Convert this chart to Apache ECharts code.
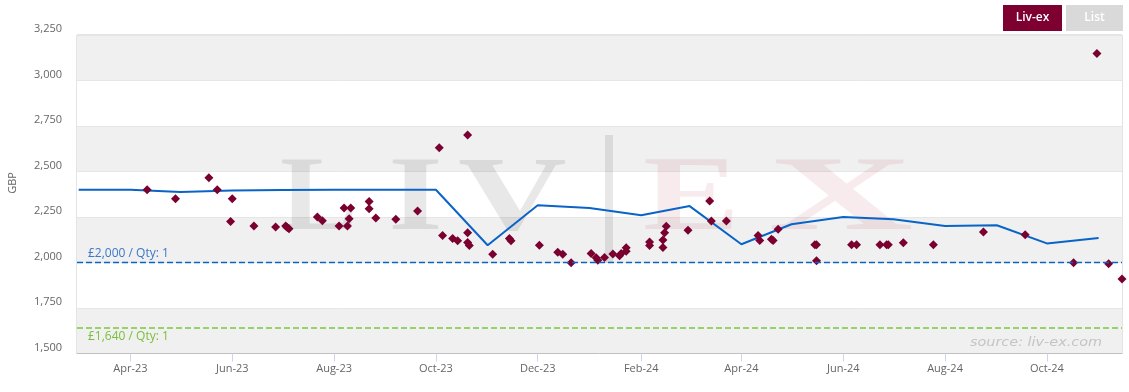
<!DOCTYPE html>
<html>
<head>
<meta charset="utf-8">
<script src="https://cdn.jsdelivr.net/npm/echarts@6/dist/echarts.min.js"></script>
<style>
html,body{margin:0;padding:0;background:#fff;}
#chart{width:1129px;height:392px;}
</style>
</head>
<body>
<div id="chart"></div>
<script>
// ---- data ----
const tradeDates = ['2023-04-11','2023-04-28','2023-05-18','2023-05-23','2023-06-01','2023-05-31','2023-06-14','2023-06-27','2023-07-03','2023-07-04','2023-07-05','2023-07-22','2023-07-25','2023-08-04','2023-08-09','2023-08-07','2023-08-11','2023-08-10','2023-08-22','2023-08-22','2023-08-26','2023-09-07','2023-09-20','2023-10-03','2023-10-20','2023-10-05','2023-10-11','2023-10-14','2023-10-20','2023-10-20','2023-10-21','2023-11-04','2023-11-14','2023-11-15','2023-12-02','2023-12-13','2023-12-16','2023-12-21','2024-01-02','2024-01-05','2024-01-06','2024-01-10','2024-01-15','2024-01-19','2024-01-20','2024-01-23','2024-01-23','2024-02-06','2024-02-06','2024-02-14','2024-02-14','2024-02-15','2024-02-16','2024-02-29','2024-03-13','2024-03-14','2024-03-23','2024-04-11','2024-04-12','2024-04-19','2024-04-20','2024-04-23','2024-05-15','2024-05-16','2024-05-16','2024-06-06','2024-06-09','2024-06-23','2024-06-27','2024-06-28','2024-07-07','2024-07-25','2024-08-24','2024-09-18','2024-10-17','2024-10-31','2024-11-07','2024-11-15'];
const tradePrices = [2400,2350,2465,2400,2350,2225,2200,2195,2200,2192,2185,2250,2230,2200,2200,2300,2300,2240,2335,2295,2245,2237,2283,2630,2700,2148,2132,2120,2163,2110,2093,2046,2132,2120,2095,2057,2046,1998,2050,2026,2013,2028,2047,2037,2050,2081,2062,2112,2094,2083,2123,2163,2199,2177,2338,2228,2228,2148,2121,2128,2121,2183,2097,2097,2009,2097,2097,2097,2097,2097,2108,2097,2168,2152,1998,3148,1993,1910];
const lineDates = ['2023-03-01','2023-04-01','2023-05-01','2023-06-01','2023-07-01','2023-08-01','2023-09-01','2023-10-01','2023-11-01','2023-12-01','2024-01-01','2024-02-01','2024-03-01','2024-04-01','2024-05-01','2024-06-01','2024-07-01','2024-08-01','2024-09-01','2024-10-01','2024-11-01'];
const linePrices = [2400,2400,2388,2396,2398,2400,2400,2400,2095,2315,2300,2260,2310,2100,2210,2250,2238,2200,2205,2105,2135];
const tickDates = ['2023-04-01','2023-06-01','2023-08-01','2023-10-01','2023-12-01','2024-02-01','2024-04-01','2024-06-01','2024-08-01','2024-10-01'];
const xRange = ['2023-02-28','2024-11-15'];
const yMin = 1500, yMax = 3250, yStep = 250;
const bidPrice = 2000, bidLabel = '£2,000 / Qty: 1';
const askPrice = 1640, askLabel = '£1,640 / Qty: 1';
const monthNames = ['Jan','Feb','Mar','Apr','May','Jun','Jul','Aug','Sep','Oct','Nov','Dec'];

function toMs(s){ const p = s.split('-').map(Number); return Date.UTC(p[0], p[1]-1, p[2]); }
function fmtMonth(v){ const d = new Date(v); return monthNames[d.getUTCMonth()] + '-' + String(d.getUTCFullYear()).slice(2); }

const FONT = '"Open Sans", "DejaVu Sans", sans-serif';
const chart = echarts.init(document.getElementById('chart'), null, {renderer:'canvas'});

const wmGray = 'rgba(0,0,0,0.09)';
const wmPink = 'rgba(150,0,40,0.08)';
function wmLetter(ch, x, sx, color){
  return {type:'text', z: 1, x: x, y: 255, scaleX: sx, silent:true,
    style:{text: ch, fill: color, font: 'bold 106px "Liberation Serif", "DejaVu Serif", serif', verticalAlign:'bottom', align:'left'}};
}

chart.setOption({
  animation: false,
  grid: {left: 77, right: 7, top: 35, bottom: 38.5, show: true, borderColor: '#c8c8c8', borderWidth: 1, backgroundColor: 'transparent'},
  xAxis: {
    type: 'value', min: toMs(xRange[0]), max: toMs(xRange[1]),
    axisLine: {show: true, lineStyle: {color: '#c0c0c0'}},
    axisTick: {show: true, length: 8, lineStyle: {color: '#ccd6eb'}, customValues: tickDates.map(toMs)},
    axisLabel: {customValues: tickDates.map(toMs), formatter: fmtMonth, color: '#666', fontSize: 11, fontFamily: FONT, margin: 10},
    splitLine: {show: false}
  },
  yAxis: {
    type: 'value', min: yMin, max: yMax, interval: yStep,
    axisLine: {show: false}, axisTick: {show: false},
    axisLabel: {color: '#666', fontSize: 11, fontFamily: FONT, margin: 15, verticalAlign: 'bottom', lineHeight: 12,
      formatter: v => v.toLocaleString('en-US')},
    splitLine: {show: true, lineStyle: {color: '#e6e6e6'}},
    splitArea: {show: true, areaStyle: {color: ['#f0f0f0', '#ffffff']}}
  },
  series: [
    {
      type: 'line', z: 2, showSymbol: false, symbol: 'none',
      data: lineDates.map((d,i) => [toMs(d), linePrices[i]]),
      lineStyle: {color: '#0a64c8', width: 2},
      markLine: {
        silent: true, symbol: 'none',
        data: [
          {yAxis: bidPrice, lineStyle: {color: '#0a64c8', type: [6,3], width: 1.3},
            label: {show: true, position: 'insideStartTop', formatter: bidLabel, color: '#3a78c8', fontSize: 12, fontFamily: FONT, distance: [11, 3]}},
          {yAxis: askPrice, lineStyle: {color: '#78c83c', type: [6,3], width: 1.5},
            label: {show: true, position: 'insideStartBottom', formatter: askLabel, color: '#78c03c', fontSize: 12, fontFamily: FONT, distance: [11, 3]}}
        ]
      }
    },
    {
      type: 'scatter', z: 3, symbol: 'diamond', symbolSize: 9,
      data: tradeDates.map((d,i) => [toMs(d), tradePrices[i]]),
      itemStyle: {color: '#7a0030', opacity: 1}
    }
  ],
  graphic: [
    wmLetter('L', 280, 1.1, wmGray),
    wmLetter('I', 388, 1.33, wmGray),
    wmLetter('V', 458, 1.42, wmGray),
    {type:'rect', z:1, silent:true, shape:{x:605, y:135, width:8, height:128}, style:{fill: wmGray}},
    wmLetter('E', 643, 1.37, wmPink),
    wmLetter('X', 768, 1.9, wmPink),
    {type:'text', z: 1, x: 970, y: 343, scaleX: 1.2, silent:true,
      style:{text:'source: liv-ex.com', fill:'#c4c4c4', font:'italic 12px "DejaVu Sans", sans-serif', verticalAlign:'middle', align:'left'}},
    {type:'text', x: 13, y: 183, rotation: Math.PI/2, silent:true,
      style:{text:'GBP', fill:'#666', font:'11px ' + FONT, align:'center', verticalAlign:'middle'}},
    {type:'rect', shape:{x:1003, y:5, width:59, height:26}, style:{fill:'#7d0030'}},
    {type:'text', x: 1032.5, y: 18, style:{text:'Liv-ex', fill:'#fff', font:'600 12px ' + FONT, align:'center', verticalAlign:'middle'}},
    {type:'rect', shape:{x:1066, y:5, width:57, height:26}, style:{fill:'#d9d9d9'}},
    {type:'text', x: 1094.5, y: 18, style:{text:'List', fill:'#fff', font:'600 12px ' + FONT, align:'center', verticalAlign:'middle'}}
  ]
});
</script>
</body>
</html>
